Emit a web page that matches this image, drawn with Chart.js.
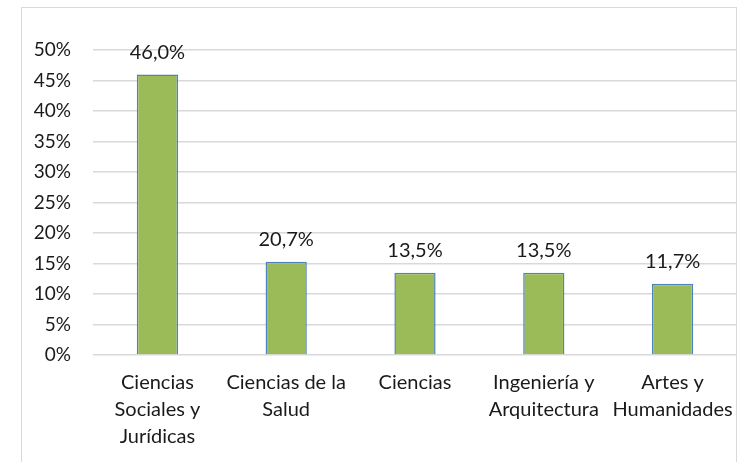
<!DOCTYPE html>
<html>
<head>
<meta charset="utf-8">
<script src="https://cdn.jsdelivr.net/npm/chart.js@4.4.0/dist/chart.umd.min.js"></script>
<style>
  html, body { margin: 0; padding: 0; background: #ffffff; }
  #wrap { position: relative; width: 740px; height: 462px; overflow: hidden; }
  #frame { position: absolute; left: 21px; top: 7px; width: 716px; height: 480px; border: 1px solid #d9d9d9; box-sizing: border-box; }
  canvas { position: absolute; left: 0; top: 0; }
</style>
</head>
<body>
<div id="wrap">
  <div id="frame"></div>
  <canvas id="c" width="740" height="462"></canvas>
</div>
<script>
const categories = [
  ["Ciencias", "Sociales y", "Jurídicas"],
  ["Ciencias de la", "Salud"],
  ["Ciencias"],
  ["Ingeniería y", "Arquitectura"],
  ["Artes y", "Humanidades"]
];
const barValues = [46.0, 15.3, 13.5, 13.5, 11.7];
const dataLabels = ["46,0%", "20,7%", "13,5%", "13,5%", "11,7%"];
const yTicks = [0, 5, 10, 15, 20, 25, 30, 35, 40, 45, 50];

const FONT = "Lato, 'Open Sans', sans-serif";
const TEXT = "#1a1a1a";

const labelPlugin = {
  id: 'barLabels',
  afterDatasetsDraw(chart) {
    const ctx = chart.ctx;
    const meta = chart.getDatasetMeta(0);
    ctx.save();
    ctx.font = "20px " + FONT;
    ctx.fillStyle = TEXT;
    ctx.textAlign = 'center';
    ctx.textBaseline = 'middle';
    meta.data.forEach((bar, i) => {
      ctx.fillText(dataLabels[i], bar.x, bar.y - 22);
    });
    ctx.restore();
  }
};

new Chart(document.getElementById('c'), {
  type: 'bar',
  data: {
    labels: categories,
    datasets: [{
      data: barValues,
      backgroundColor: '#9bbb59',
      borderColor: '#4f81bd',
      borderWidth: 1.5,
      categoryPercentage: 1.0,
      barPercentage: 0.32
    }]
  },
  options: {
    responsive: false,
    animation: false,
    devicePixelRatio: 1,
    layout: { padding: { left: 0, top: 50, right: 3, bottom: 0 } },
    plugins: { legend: { display: false }, tooltip: { enabled: false } },
    scales: {
      x: {
        grid: { display: false, drawTicks: false },
        border: { display: false },
        ticks: {
          color: TEXT,
          font: { family: FONT, size: 20, lineHeight: 1.35 },
          padding: 14,
          maxRotation: 0,
          autoSkip: false
        },
        afterFit(scale) {
          scale.height = 107;
          scale.paddingLeft = 0;
          scale.paddingRight = 0;
        }
      },
      y: {
        min: 0,
        max: 50,
        afterBuildTicks(scale) { scale.ticks = yTicks.map(v => ({ value: v })); },
        grid: { color: '#d9d9d9', lineWidth: 1.5, drawTicks: false },
        border: { display: false },
        ticks: {
          color: TEXT,
          font: { family: FONT, size: 19 },
          padding: 22,
          callback: v => v + '%'
        },
        afterFit(scale) {
          scale.width = 93;
          scale.paddingTop = 0;
          scale.paddingBottom = 0;
        }
      }
    }
  },
  plugins: [labelPlugin]
});
</script>
</body>
</html>
